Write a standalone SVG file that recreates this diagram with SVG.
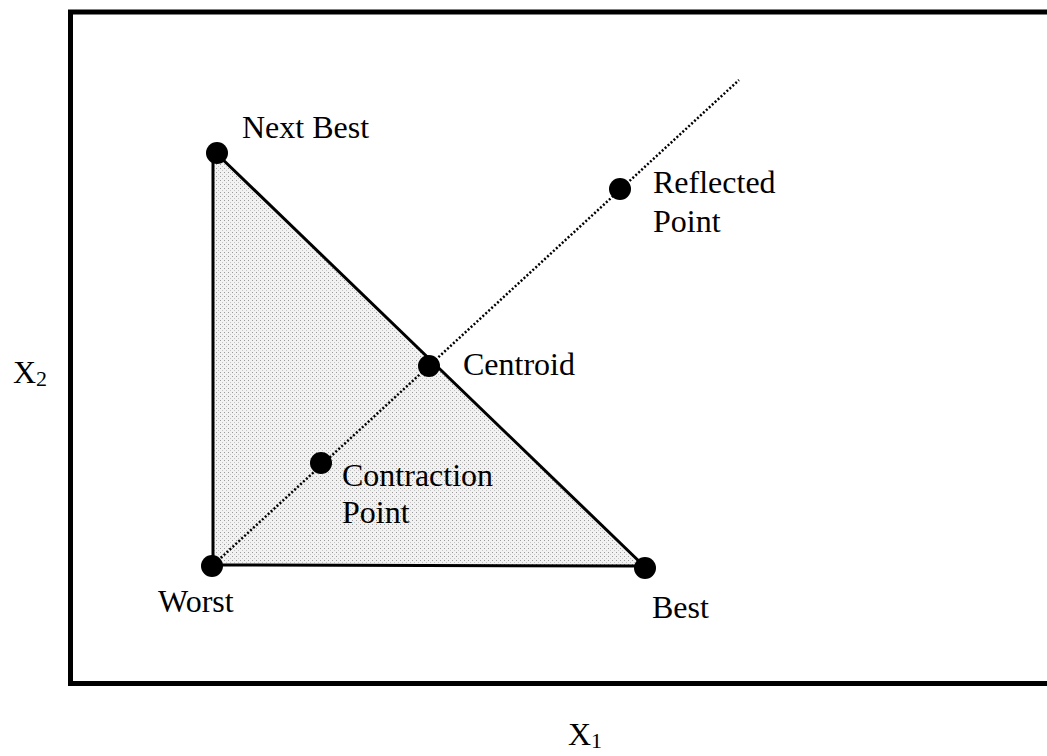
<svg xmlns="http://www.w3.org/2000/svg" width="1047" height="756" viewBox="0 0 1047 756">
<defs>
<style>
text{font-family:"Liberation Serif","Times New Roman",serif;font-size:32px;fill:#000}
.pt{fill:#000}
.edge{stroke:#000;stroke-width:3;fill:none}
.dot{stroke:#000;stroke-width:2.5;stroke-dasharray:2 2;fill:none}
</style>
<pattern id="stipple" width="4" height="4" patternUnits="userSpaceOnUse">
<rect width="4" height="4" fill="#f2f2f2"/>
<rect x="0" y="0" width="1" height="1" fill="#9a9a9a"/>
<rect x="2" y="2" width="1" height="1" fill="#c4c4c4"/>
</pattern>
</defs>
<rect width="1047" height="756" fill="#fff"/>
<rect id="frame" x="70.5" y="12" width="1000" height="671.5" fill="none" stroke="#000" stroke-width="5"/>
<polygon id="simplex" points="213,153 213,565 645,567" fill="url(#stipple)"/>
<g id="connectors">
<line class="edge" x1="213" y1="153" x2="213" y2="566"/>
<line class="edge" x1="213" y1="565" x2="645" y2="566"/>
<line class="edge" x1="216" y1="153" x2="645" y2="567"/>
<line class="dot" x1="212" y1="566" x2="739" y2="80"/>
</g>
<g id="next-best"><circle class="pt" cx="217" cy="153" r="11"/><text x="242" y="138">Next Best</text></g>
<g id="worst"><circle class="pt" cx="212" cy="566" r="11"/><text x="158" y="612">Worst</text></g>
<g id="best"><circle class="pt" cx="645" cy="568" r="11"/><text x="652" y="618">Best</text></g>
<g id="centroid"><circle class="pt" cx="429" cy="366" r="11"/><text x="463" y="375">Centroid</text></g>
<g id="reflected"><circle class="pt" cx="620" cy="189" r="11"/><text x="653" y="193">Reflected</text><text x="653" y="232">Point</text></g>
<g id="contraction"><circle class="pt" cx="321" cy="463" r="11"/><text x="342" y="486">Contraction</text><text x="342" y="523">Point</text></g>
<g id="axis-x2"><text x="13" y="383">X<tspan font-size="22" dy="3">2</tspan></text></g>
<g id="axis-x1"><text x="568" y="745">X<tspan font-size="22" dy="3">1</tspan></text></g>
</svg>
